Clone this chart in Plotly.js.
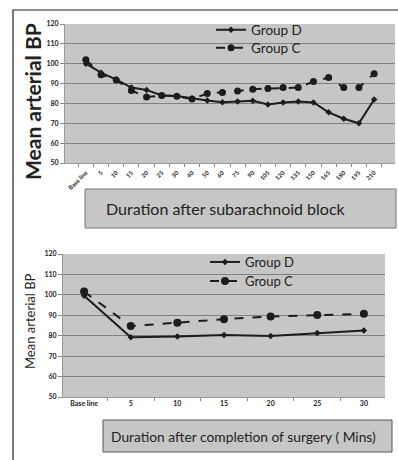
<!DOCTYPE html>
<html><head><meta charset="utf-8">
<script src="https://cdn.plot.ly/plotly-3.0.1.min.js"></script>
<style>html,body{margin:0;padding:0;background:#fff;}#chart{width:398px;height:460px;}</style>
</head><body><div id="chart"></div>
<script>
// Top chart: duration after subarachnoid block
const blockTimes = ["Base line","5","10","15","20","25","30","40","50","60","75","90","105","120","135","150","165","180","195","210"];
const blockGroupD = [100,95.5,92,88,86.8,84,83.7,82.5,81.5,80.6,81,81.3,79.5,80.5,81,80.5,75.5,72.3,70,82];
const blockGroupC = [102,94.5,91.8,86.5,83.2,84,83.6,82.2,85,85.5,86.2,87.2,87.5,88,88,91,93,88,88,95];

// Bottom chart: duration after completion of surgery (mins)
const surgeryTimes = ["Base line","5","10","15","20","25","30"];
const surgeryGroupD = [99.6,79.2,79.6,80.3,79.8,81.3,82.5];
const surgeryGroupC = [101.6,84.7,86.4,88.1,89.4,90.2,90.7];

const W = 398, H = 460;
const px = v => v / W, py = v => 1 - v / H;
const ink = '#1c1c1c';
const font = 'Lato, "Open Sans", Arial, sans-serif';

const traces = [
  {x: blockTimes, y: blockGroupD, name: 'Group D', type: 'scatter', mode: 'lines+markers',
   line: {color: ink, width: 2}, marker: {symbol: 'diamond', size: 5, color: ink},
   xaxis: 'x', yaxis: 'y', legend: 'legend'},
  {x: blockTimes, y: blockGroupC, name: 'Group C', type: 'scatter', mode: 'lines+markers',
   line: {color: ink, width: 2, dash: 'dash'}, marker: {symbol: 'circle', size: 7, color: ink},
   xaxis: 'x', yaxis: 'y', legend: 'legend3'},
  {x: surgeryTimes, y: surgeryGroupD, name: 'Group D', type: 'scatter', mode: 'lines+markers',
   line: {color: ink, width: 2}, marker: {symbol: 'diamond', size: 5, color: ink},
   xaxis: 'x2', yaxis: 'y2', legend: 'legend2'},
  {x: surgeryTimes, y: surgeryGroupC, name: 'Group C', type: 'scatter', mode: 'lines+markers',
   line: {color: ink, width: 2, dash: 'dash'}, marker: {symbol: 'circle', size: 8, color: ink},
   xaxis: 'x2', yaxis: 'y2', legend: 'legend4'}
];

const yCommon = {range: [50, 120], dtick: 10, showgrid: true, gridcolor: '#808080', gridwidth: 1,
  ticks: 'outside', ticklen: 4, tickcolor: '#888', showline: true, linecolor: '#999', zeroline: false,
  tickfont: {family: font, size: 7, color: '#222', weight: 'bold'}};
const xCommon = {type: 'category', showgrid: false, ticks: 'outside', ticklen: 3, tickcolor: '#888',
  showline: true, linecolor: '#999', zeroline: false, tickson: 'boundaries'};

function leg(x, y, size) {
  return {x: px(x), y: py(y), xanchor: 'left', yanchor: 'middle', bgcolor: 'rgba(0,0,0,0)',
    font: {family: font, size: size, color: '#222'}, itemwidth: 30};
}

const layout = {
  width: W, height: H, margin: {l: 0, r: 0, t: 0, b: 0},
  paper_bgcolor: '#ffffff', plot_bgcolor: '#c6c6c6',
  font: {family: font, color: '#222'},
  showlegend: true,
  xaxis: Object.assign({}, xCommon, {domain: [px(65), px(395)], anchor: 'y', tickangle: -45,
    ticklabelstandoff: 3, tickfont: {family: font, size: 6, color: '#222', weight: 'bold'}}),
  yaxis: Object.assign({}, yCommon, {domain: [py(163), py(24)], anchor: 'x'}),
  xaxis2: Object.assign({}, xCommon, {domain: [px(63), px(385)], anchor: 'y2', tickangle: 0,
    tickfont: {family: font, size: 7, color: '#222', weight: 'bold'}}),
  yaxis2: Object.assign({}, yCommon, {domain: [py(397), py(254)], anchor: 'x2'}),
  legend: leg(211, 30, 13.5),
  legend3: leg(211, 48, 13.5),
  legend2: leg(205, 262, 13),
  legend4: leg(205, 281, 13),
  shapes: [
    {type: 'rect', xref: 'paper', yref: 'paper', x0: px(13), x1: px(399), y0: py(470), y1: py(10),
     line: {color: '#222', width: 1.2}, fillcolor: 'rgba(0,0,0,0)', layer: 'below'},
    {type: 'rect', xref: 'paper', yref: 'paper', x0: px(85), x1: px(396), y0: py(228), y1: py(189),
     line: {color: '#777', width: 1}, fillcolor: '#c6c6c6'},
    {type: 'rect', xref: 'paper', yref: 'paper', x0: px(103), x1: px(392), y0: py(452), y1: py(420),
     line: {color: '#555', width: 1}, fillcolor: '#c6c6c6'}
  ],
  annotations: [
    {text: 'Mean arterial BP', xref: 'paper', yref: 'paper', x: px(32), y: py(102), textangle: -90,
     xanchor: 'center', yanchor: 'middle',
     showarrow: false, font: {family: font, size: 21, color: '#222', weight: 'bold'}},
    {text: 'Mean arterial BP', xref: 'paper', yref: 'paper', x: px(30), y: py(321), textangle: -90,
     xanchor: 'center', yanchor: 'middle',
     showarrow: false, font: {family: font, size: 13, color: '#222'}},
    {text: 'Duration after subarachnoid block', xref: 'paper', yref: 'paper', x: px(104), y: py(208),
     xanchor: 'left', yanchor: 'middle', showarrow: false, font: {family: font, size: 16, color: '#222'}},
    {text: 'Duration after completion of surgery ( Mins)', xref: 'paper', yref: 'paper', x: px(109), y: py(436),
     xanchor: 'left', yanchor: 'middle', showarrow: false, font: {family: font, size: 13.8, color: '#222'}}
  ]
};

Plotly.newPlot('chart', traces, layout, {displayModeBar: false, staticPlot: true});
</script></body></html>
